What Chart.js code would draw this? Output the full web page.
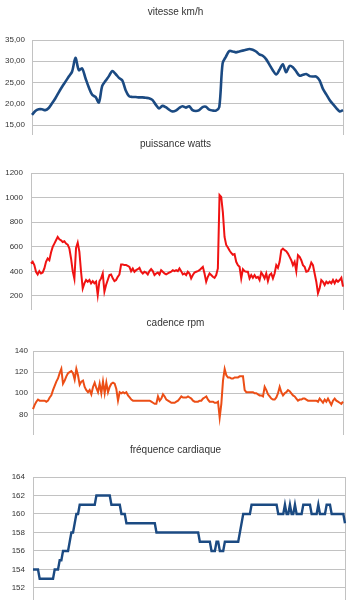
<!DOCTYPE html>
<html><head><meta charset="utf-8">
<script src="https://cdn.jsdelivr.net/npm/chart.js@4/dist/chart.umd.min.js"></script>
<style>
html,body{margin:0;padding:0;background:#fff;width:351px;height:600px;overflow:hidden}
canvas{position:absolute;left:0}
</style></head><body>
<canvas id="c1" width="351" height="135" style="top:0px"></canvas>
<canvas id="c2" width="351" height="175" style="top:135px"></canvas>
<canvas id="c3" width="351" height="125" style="top:310px"></canvas>
<canvas id="c4" width="351" height="164" style="top:436px"></canvas>
<script>
// ---- titles ----
const titles = ['vitesse km/h', 'puissance watts', 'cadence rpm', 'fréquence cardiaque'];

// ---- y tick values (labelled ticks) ----
const vitesseTicks = [15, 20, 25, 30, 35];
const puissanceTicks = [200, 400, 600, 800, 1000, 1200];
const cadenceTicks = [80, 100, 120, 140];
const frequenceTicks = [152, 154, 156, 158, 160, 162, 164];

// ---- series ----
const vitesse = [17.4,18.3,18.7,18.7,18.5,19.0,20.1,21.3,22.7,24.0,25.2,26.4,27.6,30.8,27.9,28.3,26.0,23.8,22.1,21.6,
20.3,24.2,25.4,26.5,27.7,27.0,26.1,25.5,23.2,21.8,21.6,21.6,21.5,21.5,21.4,21.3,20.9,19.8,18.9,19.5,
19.2,18.6,18.2,18.4,19.0,19.4,19.1,19.4,18.5,18.3,18.5,19.2,19.3,18.6,18.4,18.4,19.2,29.5,31.1,32.4,
32.3,32.1,32.3,32.5,32.7,32.9,32.7,32.3,31.6,31.3,30.5,29.2,27.9,26.9,28.0,29.3,27.4,28.9,28.6,27.6,
26.6,26.8,27.0,26.5,26.4,26.4,25.5,23.5,22.2,20.9,19.9,19.0,18.2,18.5];

const puissance = [464,478,451,397,375,402,383,391,424,478,505,491,553,599,626,653,680,661,653,639,
645,626,618,585,505,402,340,590,634,559,397,262,303,330,316,330,303,321,303,316,
208,320,343,383,235,289,330,370,375,343,321,330,356,375,456,456,451,451,445,437,
402,424,397,410,418,429,397,383,397,391,375,402,418,402,370,383,391,375,410,397,
383,375,383,391,397,410,402,410,402,424,402,375,
383,370,397,383,343,370,391,397,402,410,424,437,383,316,356,383,370,356,348,370,
424,1020,1005,880,680,615,595,570,550,535,540,478,451,437,343,418,402,397,397,343,
370,348,370,348,356,330,391,370,343,383,321,370,383,343,383,451,429,478,572,585,
572,564,545,518,491,451,478,402,532,518,491,451,437,397,402,429,472,451,383,316,
222,262,330,316,289,316,303,316,303,330,303,330,316,330,348,276];

const cadence = [85,89,92,94,93,93,93,93,92,93,96,98,103,107,111,114,119,123,109,112,
116,119,120,121,119,113,123,117,108,111,112,106,103,101,103,99,106,110,105,101,
109,100,111,100,110,101,106,109,110,109,104,93,101,100,101,100,101,98,96,94,
93,93,93,93,93,93,93,93,93,93,93,92,91,90,90,97,93,95,99,97,
94,93,92,91,91,91,92,93,95,97,96,
96,96,97,96,95,93,92,92,92,93,93,95,96,97,94,92,92,92,91,91,
92,77,90,112,123,117,115,115,114,114,115,115,115,116,116,116,103,101,101,101,
101,101,100,100,99,98,98,97,106,103,99,97,95,94,94,96,100,106,101,98,
100,101,103,102,100,98,97,95,93,94,94,95,95,94,93,93,93,93,93,93,
92,95,93,91,94,92,95,92,89,93,95,93,92,91,90,92];

const frequence = [154,154,154,154,153,153,153,153,153,153,153,153,153,154,154,154,155,155,156,156,
156,156,157,158,158,159,160,160,161,161,161,161,161,161,161,161,161,161,162,162,
162,162,162,162,162,162,162,161,161,161,161,161,161,160,160,160,159,159,159,159,
159,159,159,159,159,159,159,159,159,159,159,159,159,159,158,158,158,158,158,158,
158,158,158,158,158,158,158,158,158,158,158,158,158,158,158,158,158,158,158,158,
157,157,157,157,157,157,157,156,156,156,157,157,156,156,156,157,157,157,157,157,
157,157,157,157,158,159,160,160,160,160,160,161,161,161,161,161,161,161,161,161,
161,161,161,161,161,161,161,160,160,160,160,161,160,160,161,160,160,161,160,160,
160,160,161,161,161,161,161,160,160,160,160,161,160,160,160,160,161,161,161,160,
160,160,160,160,160,160,160,159];

const FONT = "'Liberation Sans', Arial, sans-serif";
const GRID = '#c2c2c2';

function build(id, title, values, tickList, cfg) {
  const step = tickList[1] - tickList[0];
  new Chart(document.getElementById(id), {
    type: 'line',
    data: {
      labels: values.map((_, i) => i + 1),
      datasets: [{
        data: values,
        borderColor: cfg.color,
        borderWidth: cfg.lw,
        pointRadius: 0,
        tension: cfg.tension,
        fill: false
      }]
    },
    options: {
      responsive: false,
      animation: false,
      devicePixelRatio: 1,
      layout: { autoPadding: false, padding: 0 },
      plugins: {
        legend: { display: false },
        tooltip: { enabled: false },
        title: {
          display: true, text: title, color: '#333',
          font: { family: FONT, size: 10, weight: 'normal' },
          padding: { top: cfg.tTop, bottom: cfg.tBottom }
        }
      },
      scales: {
        x: { display: false },
        y: {
          position: 'left',
          min: cfg.min,
          max: tickList[tickList.length - 1],
          afterFit: s => { s.width = cfg.left; s.paddingTop = 0; s.paddingBottom = 0; },
          grid: { color: GRID, lineWidth: 1, drawTicks: false },
          border: { display: true, color: GRID, width: 1 },
          ticks: {
            stepSize: step, includeBounds: false, padding: cfg.pad,
            color: '#333', font: { family: FONT, size: 8 },
            callback: cfg.fmt
          }
        },
        yr: {
          position: 'right',
          afterFit: s => { s.width = 351 - cfg.right; s.paddingTop = 0; s.paddingBottom = 0; },
          grid: { color: 'rgba(0,0,0,0)', drawTicks: false },
          border: { display: true, color: GRID, width: 1 },
          ticks: { display: false }
        }
      }
    }
  });
}

build('c1', titles[0], vitesse, vitesseTicks, {
  color: '#1b4a82', lw: 2.6, tension: 0.3, min: 12.65, left: 32, right: 343, pad: 7,
  tTop: 6, tBottom: 22, fmt: v => v.toFixed(2).replace('.', ',')
});
build('c2', titles[1], puissance, puissanceTicks, {
  color: '#f01212', lw: 2, tension: 0, min: 86, left: 31, right: 343, pad: 8,
  tTop: 3, tBottom: 23, fmt: v => v
});
build('c3', titles[2], cadence, cadenceTicks, {
  color: '#ec4e16', lw: 2, tension: 0, min: 60.5, left: 33, right: 343, pad: 5,
  tTop: 7, tBottom: 22, fmt: v => v
});
build('c4', titles[3], frequence, frequenceTicks, {
  color: '#1b4a82', lw: 2.4, tension: 0, min: 150.7, left: 33, right: 345, pad: 8,
  tTop: 8, tBottom: 21, fmt: v => v
});
</script>
</body></html>
